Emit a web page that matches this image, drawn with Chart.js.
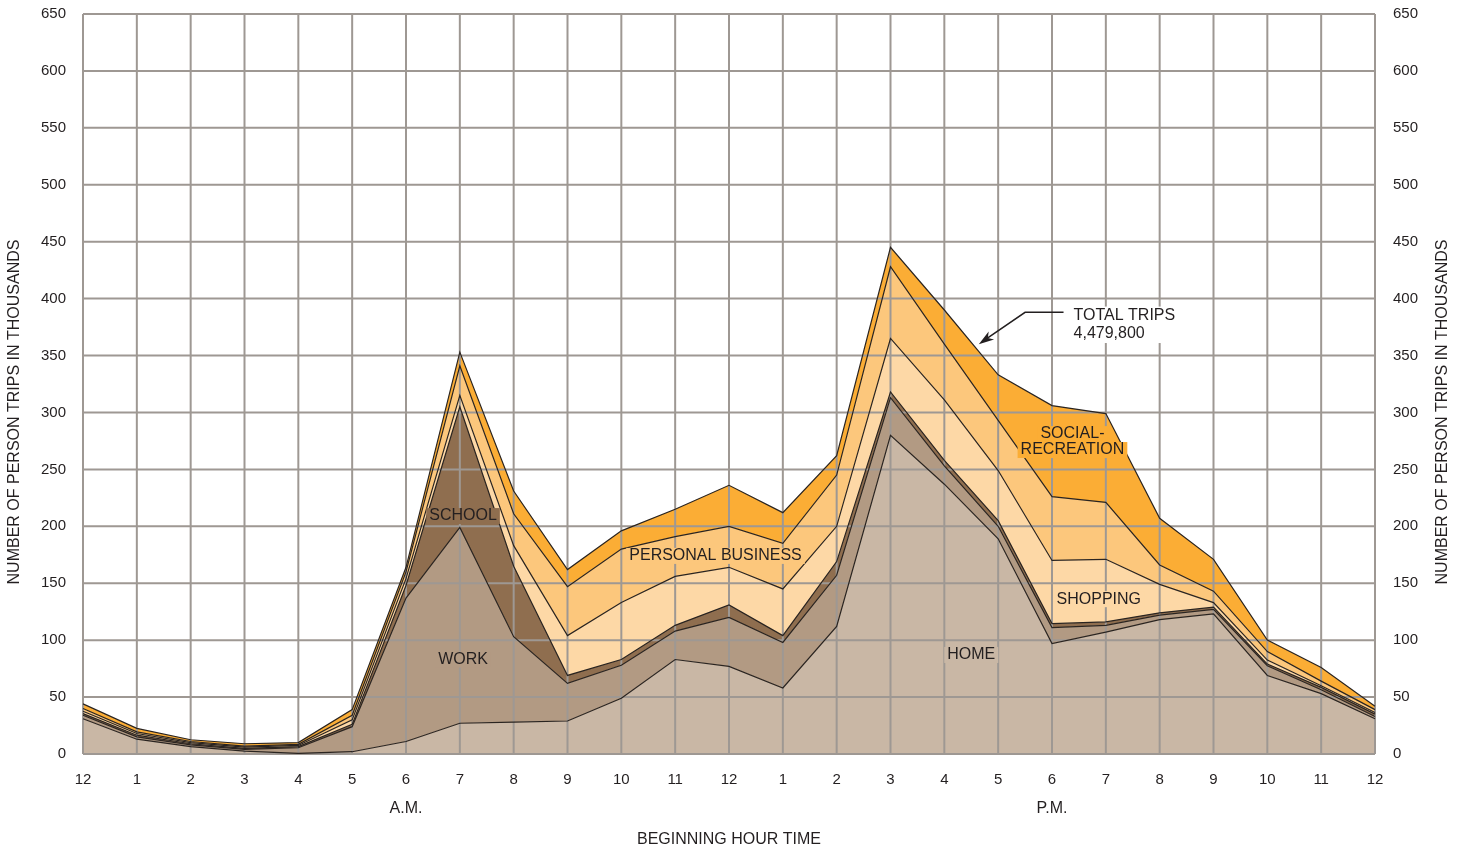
<!DOCTYPE html>
<html>
<head>
<meta charset="utf-8">
<title>Person trips by beginning hour</title>
<script src="https://cdn.jsdelivr.net/npm/chart.js@4.4.1/dist/chart.umd.min.js"></script>
<style>
    body { margin: 0; background: #fff; }
    #wrap { width: 1466px; height: 851px; }
</style>
</head>
<body>
<div id="wrap"><canvas id="tripsChart"></canvas></div>
<script>
// hour ticks, 12 midnight to 12 midnight
var hours = ["12", "1", "2", "3", "4", "5", "6", "7", "8", "9", "10", "11",
             "12", "1", "2", "3", "4", "5", "6", "7", "8", "9", "10", "11", "12"];

// thousands of person trips per purpose (stacked, bottom to top)
var home     = [31, 13, 6.5, 2.5, 0.5, 2, 11, 27, 28, 29, 49, 83, 77, 58, 112, 280, 237, 189, 97, 107, 118, 123, 69, 53, 31];
var work     = [3, 2, 1.5, 1.5, 5, 22, 126, 172, 75, 33, 29, 25, 43, 40, 45, 33, 16, 11, 14, 6, 4, 4, 8.5, 3.5, 2];
var school   = [1.5, 1.5, 1, 1, 1, 2, 11, 106, 62, 7, 5, 5, 11, 6, 12, 5, 5, 5, 3.5, 3, 2, 2, 1.5, 2, 2];
var shopping = [2, 1.5, 1, 1, 1, 4, 6, 10, 18, 35, 50, 43, 33, 41, 31, 47, 53, 44, 55.5, 55, 25, 4, 3.5, 1.5, 1.5];
var personal = [2.5, 1.5, 1, 1, 1, 4, 6, 26, 28, 43, 47, 35, 36, 40, 45, 63, 49, 44, 56, 50, 17, 10, 7.5, 4, 2.5];
var social   = [4, 3, 1.5, 2, 1.5, 5, 4, 12, 20, 15, 16, 24, 36, 27, 17, 17, 30, 40, 80, 78, 41, 28, 10, 12, 3];

var yTicks = [0, 50, 100, 150, 200, 250, 300, 350, 400, 450, 500, 550, 600, 650];

var inkColor = '#231f20';
var gridColor = '#9e9893';
var lineColor = '#2a2420';
var fontFamily = '"Liberation Sans", Arial, Helvetica, sans-serif';

var colors = {
    home: '#c9b7a5',
    work: '#b29a83',
    school: '#8f6e4f',
    shopping: '#fdd8a6',
    personal: '#fcc77c',
    social: '#fbad35'
};

function layer(label, data, color, fill) {
    return {
        label: label,
        data: data,
        fill: fill,
        backgroundColor: color,
        borderColor: lineColor,
        borderWidth: 1.2,
        pointRadius: 0,
        tension: 0
    };
}

// label with a box in the layer colour, like the print original
function boxLabel(ctx, text, x, y, bg) {
    ctx.font = '16px ' + fontFamily;
    var w = ctx.measureText(text).width;
    if (bg) {
        ctx.fillStyle = bg;
        ctx.fillRect(x - w / 2 - 3, y - 8, w + 6, 16);
    }
    ctx.fillStyle = inkColor;
    ctx.textAlign = 'center';
    ctx.textBaseline = 'middle';
    ctx.fillText(text, x, y);
}

// fixed axis box so the plot area lands where the print has it
function fitY(width) {
    return function (s) {
        s.width = width;
        s.paddingTop = 14;
        s.paddingBottom = 0;
    };
}

var overlay = {
    id: 'overlay',
    beforeDatasetsDraw: function (chart) {
        // grid sits above the fills but under the outlines
        var ctx = chart.ctx;
        var a = chart.chartArea;
        var xs = chart.scales.x;
        var ys = chart.scales.y;
        ctx.save();
        ctx.strokeStyle = gridColor;
        ctx.lineWidth = 2;
        ctx.beginPath();
        for (var i = 0; i < hours.length; i++) {
            var px = xs.getPixelForValue(i);
            ctx.moveTo(px, a.top);
            ctx.lineTo(px, a.bottom);
        }
        for (var j = 0; j < yTicks.length; j++) {
            var py = ys.getPixelForValue(yTicks[j]);
            ctx.moveTo(a.left, py);
            ctx.lineTo(a.right, py);
        }
        ctx.stroke();
        ctx.restore();
    },
    afterDatasetsDraw: function (chart) {
        var ctx = chart.ctx;
        var xs = chart.scales.x;
        var ys = chart.scales.y;
        function X(v) { return xs.getPixelForValue(v); }
        function Y(v) { return ys.getPixelForValue(v); }

        ctx.save();
        boxLabel(ctx, 'SCHOOL', X(7.06), Y(209), colors.school);
        boxLabel(ctx, 'WORK', X(7.06), Y(83), colors.work);
        boxLabel(ctx, 'PERSONAL BUSINESS', X(11.75), Y(174), colors.personal);
        boxLabel(ctx, 'HOME', X(16.5), Y(87), colors.home);
        boxLabel(ctx, 'SOCIAL-', X(18.38), Y(281), colors.social);
        boxLabel(ctx, 'RECREATION', X(18.38), Y(267), colors.social);
        boxLabel(ctx, 'SHOPPING', X(18.87), Y(136), colors.shopping);

        // total trips note with leader arrow
        var tx = X(18.4);
        ctx.font = '16px ' + fontFamily;
        var tw = ctx.measureText('TOTAL TRIPS').width;
        ctx.fillStyle = '#fff';
        ctx.fillRect(tx - 4, Y(393), tw + 8, Y(361) - Y(393));
        ctx.fillStyle = inkColor;
        ctx.textAlign = 'left';
        ctx.textBaseline = 'middle';
        ctx.fillText('TOTAL TRIPS', tx, Y(385));
        ctx.fillText('4,479,800', tx, Y(369));

        var tipX = X(16.64), tipY = Y(360);
        var kneeX = X(17.5), kneeY = Y(388);
        ctx.strokeStyle = inkColor;
        ctx.lineWidth = 1.5;
        ctx.beginPath();
        ctx.moveTo(tx - 10, kneeY);
        ctx.lineTo(kneeX, kneeY);
        var ang = Math.atan2(tipY - kneeY, tipX - kneeX);
        ctx.lineTo(tipX - 10 * Math.cos(ang), tipY - 10 * Math.sin(ang));
        ctx.stroke();
        ctx.fillStyle = inkColor;
        ctx.beginPath();
        ctx.moveTo(tipX, tipY);
        ctx.lineTo(tipX - 16 * Math.cos(ang - 0.3), tipY - 16 * Math.sin(ang - 0.3));
        ctx.lineTo(tipX - 11 * Math.cos(ang), tipY - 11 * Math.sin(ang));
        ctx.lineTo(tipX - 16 * Math.cos(ang + 0.3), tipY - 16 * Math.sin(ang + 0.3));
        ctx.closePath();
        ctx.fill();
        ctx.restore();
    },
    afterDraw: function (chart) {
        var ctx = chart.ctx;
        var xs = chart.scales.x;
        ctx.save();
        ctx.font = '16px ' + fontFamily;
        ctx.fillStyle = inkColor;
        ctx.textAlign = 'center';
        ctx.textBaseline = 'middle';
        ctx.fillText('A.M.', xs.getPixelForValue(6), 809);
        ctx.fillText('P.M.', xs.getPixelForValue(18), 809);
        ctx.fillText('BEGINNING HOUR TIME', xs.getPixelForValue(12), 840);

        ctx.translate(15, 412);
        ctx.rotate(-Math.PI / 2);
        ctx.fillText('NUMBER OF PERSON TRIPS IN THOUSANDS', 0, 0);
        ctx.rotate(Math.PI / 2);
        ctx.translate(1443 - 15, 0);
        ctx.rotate(-Math.PI / 2);
        ctx.fillText('NUMBER OF PERSON TRIPS IN THOUSANDS', 0, 0);
        ctx.restore();
    }
};

function makeChart() {
    var canvas = document.getElementById('tripsChart');

    var tickFont = { family: fontFamily, size: 15 };

    new Chart(canvas, {
        type: 'line',
        data: {
            labels: hours,
            datasets: [
                layer('Home', home, colors.home, 'origin'),
                layer('Work', work, colors.work, '-1'),
                layer('School', school, colors.school, '-1'),
                layer('Shopping', shopping, colors.shopping, '-1'),
                layer('Personal business', personal, colors.personal, '-1'),
                layer('Social-recreation', social, colors.social, '-1')
            ]
        },
        options: {
            responsive: true,
            maintainAspectRatio: false,
            animation: false,
            layout: { padding: 0 },
            plugins: {
                legend: { display: false },
                tooltip: { enabled: false },
                filler: { drawTime: 'beforeDatasetsDraw' }
            },
            scales: {
                x: {
                    offset: false,
                    grid: { display: false },
                    border: { display: false },
                    ticks: { font: tickFont, color: inkColor, padding: 9, maxRotation: 0, autoSkip: false },
                    afterFit: function (s) { s.height = 97; }
                },
                y: {
                    position: 'left',
                    stacked: true,
                    min: 0,
                    max: 650,
                    grid: { display: false },
                    border: { display: false },
                    ticks: { stepSize: 50, font: tickFont, color: inkColor, padding: 9 },
                    afterFit: fitY(83)
                },
                y2: {
                    position: 'right',
                    min: 0,
                    max: 650,
                    grid: { display: false },
                    border: { display: false },
                    ticks: { stepSize: 50, font: tickFont, color: inkColor, padding: 10 },
                    afterFit: fitY(91)
                }
            }
        },
        plugins: [overlay]
    });
}

document.addEventListener('DOMContentLoaded', makeChart);
</script>
</body>
</html>
